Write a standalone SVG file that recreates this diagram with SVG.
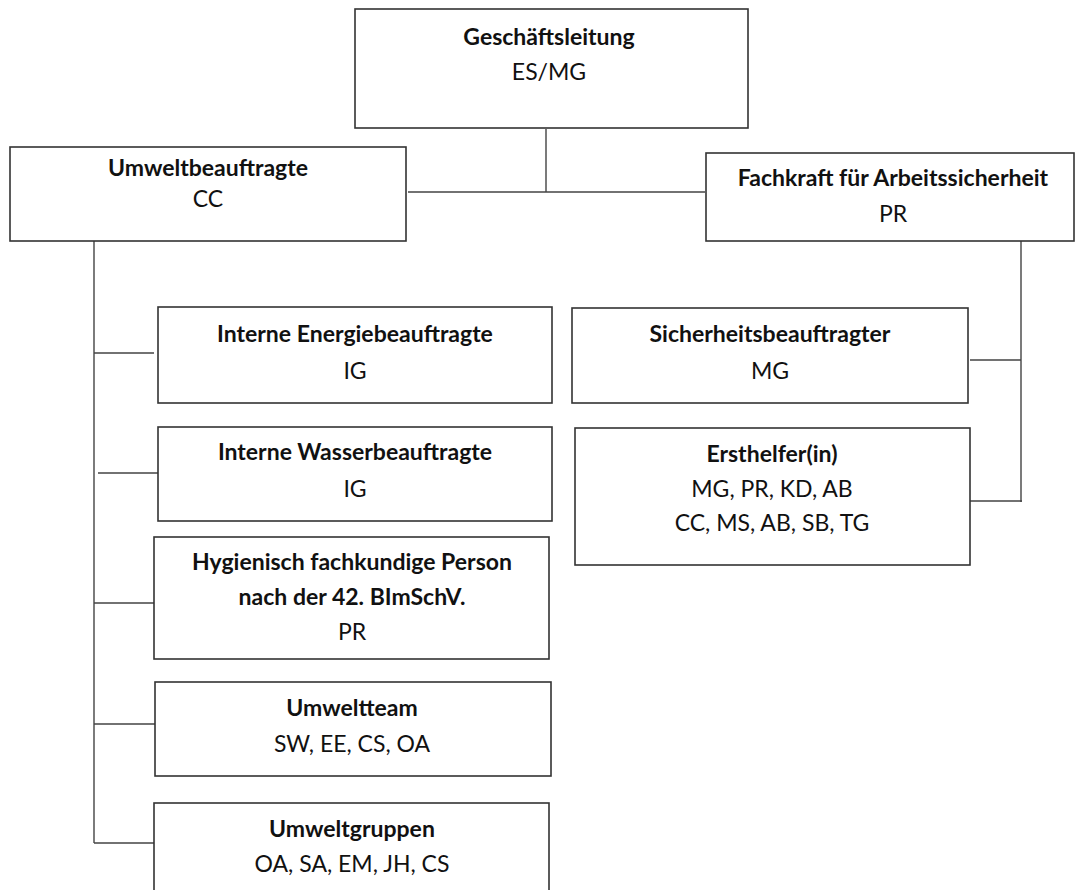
<svg xmlns="http://www.w3.org/2000/svg" width="1075" height="890" viewBox="0 0 1075 890">
<style>
.box{fill:#fff;stroke:#333;stroke-width:1.6}
.ln{stroke:#444;stroke-width:1.4;fill:none}
text{font-family:Lato,"Open Sans",sans-serif;font-size:23px;fill:#111;text-anchor:middle}
.t{font-weight:bold}
</style>
<rect width="1075" height="890" fill="#fff"/>
<g id="connectors">
<path class="ln" d="M546,129 V192 M408,192 H705"/>
<path class="ln" d="M94,241 V843"/>
<path class="ln" d="M94,353 H154 M98,473 H158 M94,603 H154 M94,724 H155 M94,843 H154"/>
<path class="ln" d="M1021,241 V502 M970,360 H1021 M970,501 H1022"/>
</g>
<g id="n-gl"><rect class="box" x="355" y="9" width="393" height="119"/><text class="t" x="549" y="45">Geschäftsleitung</text><text x="549" y="80">ES/MG</text></g>
<g id="n-ub"><rect class="box" x="10" y="147" width="396" height="94"/><text class="t" x="208" y="176">Umweltbeauftragte</text><text x="208" y="207">CC</text></g>
<g id="n-fa"><rect class="box" x="706" y="153" width="368" height="88"/><text class="t" x="893" y="186">Fachkraft für Arbeitssicherheit</text><text x="893" y="222">PR</text></g>
<g id="n-sb"><rect class="box" x="572" y="308" width="396" height="95"/><text class="t" x="770" y="342">Sicherheitsbeauftragter</text><text x="770" y="379">MG</text></g>
<g id="n-eh"><rect class="box" x="575" y="428" width="395" height="137"/><text class="t" x="772" y="462">Ersthelfer(in)</text><text x="772" y="497">MG, PR, KD, AB</text><text x="772" y="531">CC, MS, AB, SB, TG</text></g>
<g id="n-ie"><rect class="box" x="158" y="307" width="394" height="96"/><text class="t" x="355" y="342">Interne Energiebeauftragte</text><text x="355" y="379">IG</text></g>
<g id="n-iw"><rect class="box" x="158" y="427" width="394" height="94"/><text class="t" x="355" y="460">Interne Wasserbeauftragte</text><text x="355" y="497">IG</text></g>
<g id="n-hy"><rect class="box" x="154" y="537" width="395" height="122"/><text class="t" x="352" y="570">Hygienisch fachkundige Person</text><text class="t" x="352" y="605">nach der 42. BImSchV.</text><text x="352" y="640">PR</text></g>
<g id="n-ut"><rect class="box" x="155" y="682" width="396" height="94"/><text class="t" x="352" y="716">Umweltteam</text><text x="352" y="752">SW, EE, CS, OA</text></g>
<g id="n-ug"><rect class="box" x="154" y="803" width="395" height="100"/><text class="t" x="352" y="837">Umweltgruppen</text><text x="352" y="872">OA, SA, EM, JH, CS</text></g>
</svg>
